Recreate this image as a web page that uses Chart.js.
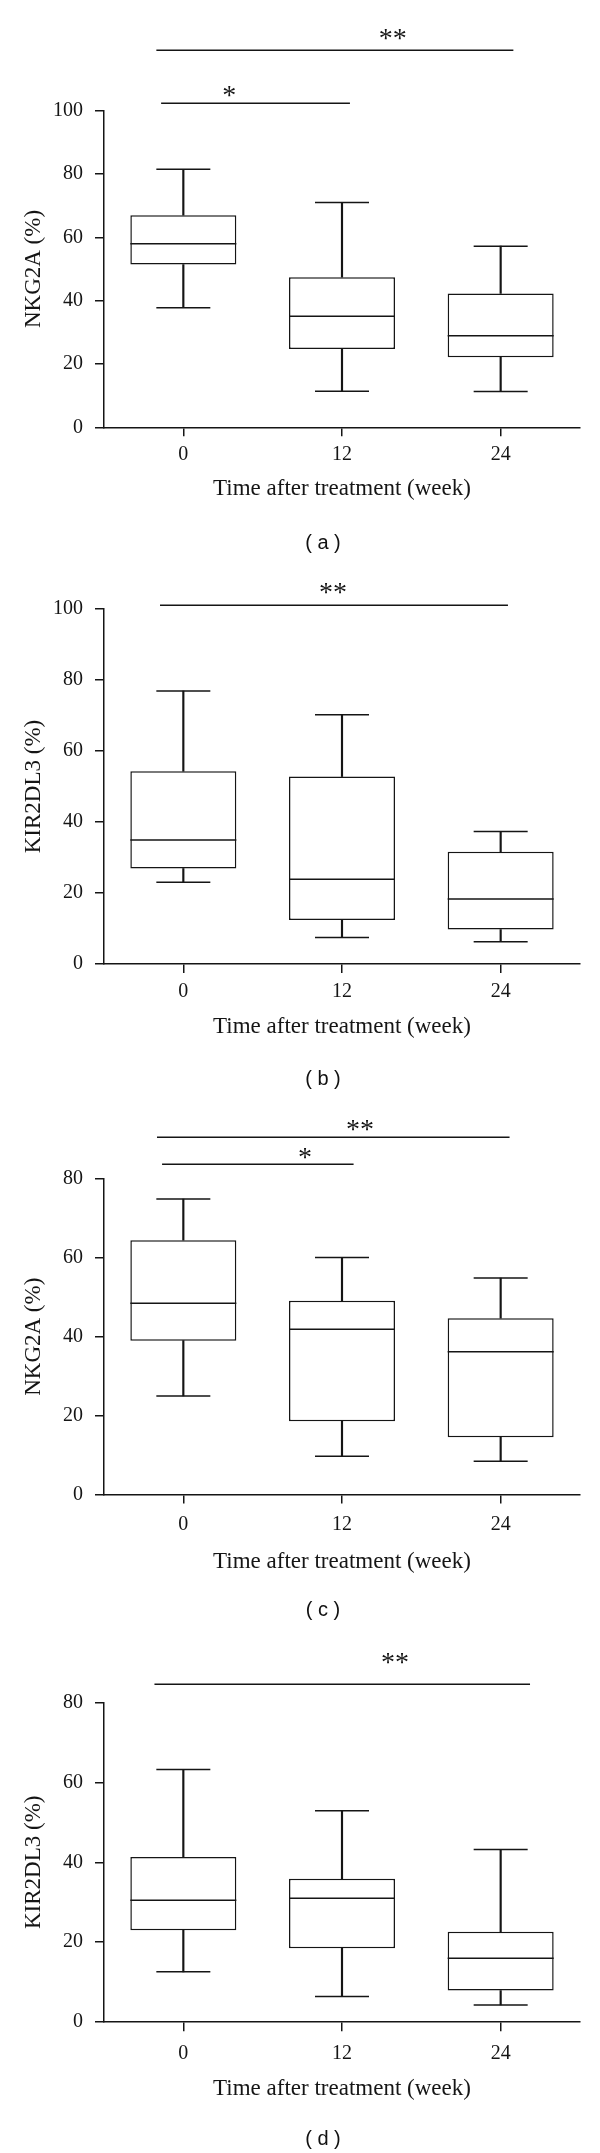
<!DOCTYPE html>
<html>
<head>
<meta charset="utf-8">
<script src="https://cdn.jsdelivr.net/npm/chart.js@4/dist/chart.umd.min.js"></script>
<style>
  html, body { margin: 0; padding: 0; background: #fff; }
  body { width: 600px; height: 2153px; position: relative; overflow: hidden; }
  canvas { position: absolute; left: 0; }
  .lab { position: absolute; font-family: "Liberation Sans", Arial, sans-serif; font-size: 20px;
         color: #111; transform: translate(-50%, -50%); white-space: pre; line-height: 1; }
</style>
</head>
<body>
<canvas id="ca" width="600" height="540" style="top:0px"></canvas>
<canvas id="cb" width="600" height="540" style="top:540px"></canvas>
<canvas id="cc" width="600" height="540" style="top:1080px"></canvas>
<canvas id="cd" width="600" height="533" style="top:1620px"></canvas>
<div class="lab" style="left:323px;top:542px">( a )</div>
<div class="lab" style="left:323px;top:1078px">( b )</div>
<div class="lab" style="left:323px;top:1609px">( c )</div>
<div class="lab" style="left:323px;top:2138px">( d )</div>
<script>
// ---------------- DATA ----------------
const weeks = ['0', '12', '24'];
const xTitle = 'Time after treatment (week)';

// (a) NKG2A
const aMin = [37.8, 11.4, 11.3];
const aQ1  = [51.4, 24.7, 22.1];
const aMed = [58.0, 35.1, 28.9];
const aQ3  = [67.0, 47.4, 42.3];
const aMax = [81.5, 71.0, 57.2];
// brackets: [fromCategory, toCategory, level]; stars: [text, category, level]
const aBrackets = [[-0.17, 2.08, 119.2], [-0.14, 1.05, 102.3]];
const aStars = [['**', 1.32, 124.4], ['*', 0.29, 106.2]];

// (b) KIR2DL3
const bMin = [23.0, 7.5, 6.3];
const bQ1  = [26.9, 12.4, 9.7];
const bMed = [34.9, 23.9, 18.3];
const bQ3  = [54.3, 52.8, 31.6];
const bMax = [76.9, 70.2, 37.3];
const bBrackets = [[-0.147, 2.046, 101.1]];
const bStars = [['**', 0.943, 106.1]];

// (c) NKG2A
const cMin = [25.0, 9.7, 8.4];
const cQ1  = [39.0, 18.6, 14.5];
const cMed = [48.5, 41.9, 36.2];
const cQ3  = [64.5, 49.1, 44.7];
const cMax = [74.9, 60.1, 54.9];
const cBrackets = [[-0.166, 2.056, 90.7], [-0.134, 1.073, 83.8]];
const cStars = [['**', 1.113, 93.8], ['*', 0.767, 86.7]];

// (d) KIR2DL3
const dMin = [12.6, 6.4, 4.3];
const dQ1  = [23.0, 18.5, 7.9];
const dMed = [30.5, 31.0, 16.0];
const dQ3  = [41.3, 35.9, 22.6];
const dMax = [63.2, 52.9, 43.2];
const dBrackets = [[-0.182, 2.185, 84.6]];
const dStars = [['**', 1.334, 91.0]];

// ---------------- STYLE ----------------
const INK = '#151515';
const LW = 1.5;
const SERIF = '"Liberation Serif", "Times New Roman", serif';

const bracketPlugin = {
  id: 'brackets',
  afterDraw(chart, args, opts) {
    const ctx = chart.ctx, xs = chart.scales.x, ys = chart.scales.y;
    ctx.save();
    ctx.strokeStyle = INK;
    ctx.lineWidth = LW;
    (opts.lines || []).forEach(([a, b, lv]) => {
      const y = Math.round(ys.getPixelForValue(lv)) + 0.25;
      ctx.beginPath();
      ctx.moveTo(xs.getPixelForValue(a), y);
      ctx.lineTo(xs.getPixelForValue(b), y);
      ctx.stroke();
    });
    const fs = 28;
    ctx.fillStyle = INK;
    ctx.font = fs + 'px ' + SERIF;
    ctx.textAlign = 'center';
    ctx.textBaseline = 'alphabetic';
    (opts.stars || []).forEach(([t, c, lv]) => {
      ctx.fillText(t, xs.getPixelForValue(c), ys.getPixelForValue(lv) + 0.47 * fs);
    });
    ctx.restore();
  }
};

function makePanel(id, canvasTop, canvasH, chartTop, chartBottom, titleOff, tickOff,
                   yMax, yTitle, mins, q1s, meds, q3s, maxs, brackets, stars) {
  const xH = canvasTop + canvasH - chartBottom;
  const titleLH = 23 * 1.2;
  const pointDs = (vals, r) => ({
    type: 'line', data: vals, showLine: false, pointStyle: 'line',
    pointRadius: r, pointHoverRadius: r, pointBorderWidth: LW, pointHoverBorderWidth: LW,
    pointBorderColor: INK, pointBackgroundColor: INK, borderColor: INK, order: 0, clip: false
  });
  const whisker = (lo, hi) => ({
    data: lo.map((v, i) => [v, hi[i]]), backgroundColor: INK, borderWidth: 0,
    barThickness: LW, grouped: false, order: 2
  });
  new Chart(document.getElementById(id), {
    type: 'bar',
    data: {
      labels: weeks,
      datasets: [
        pointDs(meds, 53),
        pointDs(maxs, 27),
        pointDs(mins, 27),
        {
          data: q1s.map((v, i) => [v, q3s[i]]), backgroundColor: '#ffffff', borderColor: INK,
          borderWidth: LW, borderSkipped: false, grouped: false,
          barPercentage: 0.668, categoryPercentage: 1, order: 1
        },
        whisker(mins, q1s),
        whisker(q3s, maxs)
      ]
    },
    options: {
      responsive: false, animation: false, devicePixelRatio: 1,
      events: [],
      layout: { autoPadding: false, padding: { top: chartTop - canvasTop, left: 0, right: 20, bottom: 0 } },
      plugins: { legend: { display: false }, tooltip: { enabled: false },
                 brackets: { lines: brackets, stars: stars } },
      scales: {
        x: {
          offset: true,
          grid: { display: true, offset: false, drawOnChartArea: false, drawTicks: true,
                  tickLength: 9, color: INK, lineWidth: LW },
          border: { display: true, color: INK, width: LW },
          ticks: { color: INK, font: { family: SERIF, size: 20 }, padding: tickOff - 21, maxRotation: 0 },
          title: { display: true, text: xTitle, color: INK, font: { family: SERIF, size: 23 },
                   padding: { top: 0, bottom: xH - titleOff - titleLH / 2 } },
          afterFit: (s) => { s.height = xH; }
        },
        y: {
          min: 0, max: yMax,
          grid: { display: true, drawOnChartArea: false, drawTicks: true,
                  tickLength: 9, color: INK, lineWidth: LW },
          border: { display: true, color: INK, width: LW },
          ticks: { stepSize: 20, color: INK, font: { family: SERIF, size: 20 }, padding: 12 },
          title: { display: true, text: yTitle, color: INK, font: { family: SERIF, size: 23 },
                   padding: { top: 20, bottom: 0 } },
          afterFit: (s) => { s.width = 104; }
        }
      }
    },
    plugins: [bracketPlugin]
  });
}

makePanel('ca', 0, 540, 110.7, 427.3, 62, 27, 100, 'NKG2A (%)', aMin, aQ1, aMed, aQ3, aMax, aBrackets, aStars);
makePanel('cb', 540, 540, 609, 964, 63, 28, 100, 'KIR2DL3 (%)', bMin, bQ1, bMed, bQ3, bMax, bBrackets, bStars);
makePanel('cc', 1080, 540, 1179, 1494.5, 67, 30, 80, 'NKG2A (%)', cMin, cQ1, cMed, cQ3, cMax, cBrackets, cStars);
makePanel('cd', 1620, 533, 1702.3, 2022.2, 67, 32, 80, 'KIR2DL3 (%)', dMin, dQ1, dMed, dQ3, dMax, dBrackets, dStars);
</script>
</body>
</html>
